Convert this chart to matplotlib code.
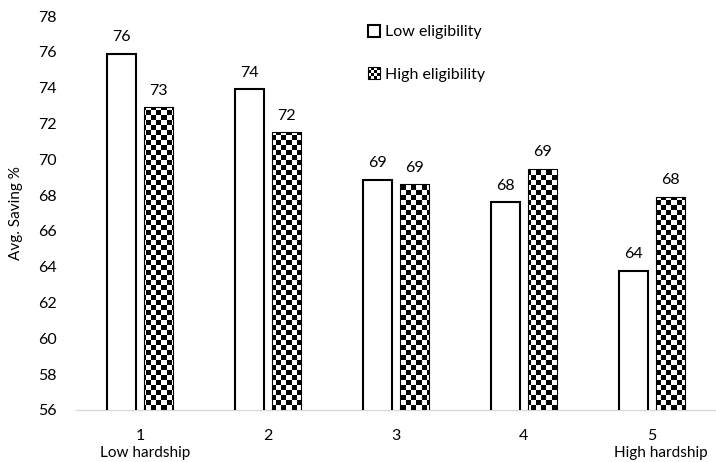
import numpy as np
import matplotlib
matplotlib.use("Agg")
import matplotlib.pyplot as plt
from matplotlib.colors import ListedColormap
from matplotlib.legend_handler import HandlerBase
from matplotlib.patches import Rectangle

categories = ["1", "2", "3", "4", "5"]
low_eligibility = [75.9, 73.9, 68.85, 67.6, 63.75]
high_eligibility = [72.9, 71.5, 68.6, 69.45, 67.9]
y_ticks = list(range(56, 80, 2))

plt.rcParams["font.family"] = ["Lato", "DejaVu Sans"]
plt.rcParams["font.size"] = 11.5

checker_cmap = ListedColormap(["white", "black"])


class CheckerHandler(HandlerBase):
    """Legend key drawn as a small checkerboard square."""

    def create_artists(self, legend, orig_handle, xdescent, ydescent,
                       width, height, fontsize, trans):
        n = 4
        size = min(width, height)
        x0 = -xdescent
        y0 = -ydescent
        step = size / n
        artists = [Rectangle((x0, y0), size, size, facecolor="white",
                             edgecolor="black", lw=0.8, transform=trans)]
        for i in range(n):
            for j in range(n):
                if (i + j) % 2 == 0:
                    artists.append(Rectangle((x0 + i * step, y0 + j * step), step, step,
                                             facecolor="black", lw=0, transform=trans))
        return artists


class BoxHandler(HandlerBase):
    def create_artists(self, legend, orig_handle, xdescent, ydescent,
                       width, height, fontsize, trans):
        size = min(width, height)
        return [Rectangle((-xdescent, -ydescent), size, size, facecolor="white",
                          edgecolor="black", lw=1.5, transform=trans)]


fig = plt.figure(figsize=(7.16, 4.62), dpi=100)
ax = fig.add_axes([0.106, 0.1126, 0.894, 0.8526])

x = np.arange(1, len(categories) + 1)
width = 0.23
offset = 0.145

bars_low = ax.bar(x - offset, low_eligibility, width, bottom=0,
                  facecolor="white", edgecolor="black", lw=1.5, zorder=3)
bars_high = ax.bar(x + offset, high_eligibility, width,
                   facecolor="none", edgecolor="black", lw=0.8, zorder=4)

ymin, ymax = 56, 78
xmin, xmax = 0.5, 5.5

# checkerboard fill for the high-eligibility bars
ncols, nrows = 128, 79
checker = np.indices((nrows, ncols)).sum(axis=0) % 2
for bar in bars_high:
    im = ax.imshow(checker, cmap=checker_cmap, extent=(xmin, xmax, ymin, ymax),
                   origin="lower", interpolation="nearest", aspect="auto", zorder=3)
    im.set_clip_path(bar)

ax.bar_label(bars_low, fmt="%.0f", padding=7, fontsize=11.5)
ax.bar_label(bars_high, fmt="%.0f", padding=7, fontsize=11.5)

ax.set_xlim(xmin, xmax)
ax.set_ylim(ymin, ymax)
ax.set_yticks(y_ticks)
ax.set_xticks(x)
ax.set_xticklabels(categories)
ax.tick_params(axis="both", length=0)
ax.tick_params(axis="y", pad=14)
ax.tick_params(axis="x", pad=14)

for side in ["left", "right", "top"]:
    ax.spines[side].set_visible(False)
ax.spines["bottom"].set_color("#d9d9d9")
ax.spines["bottom"].set_linewidth(1.0)

ax.set_ylabel("Avg. Saving %", fontsize=11)
ax.yaxis.set_label_coords(-0.083, 0.5)

ax.text(1.04, -0.108, "Low hardship", transform=ax.get_xaxis_transform(),
        ha="center", va="center", fontsize=11)
ax.text(5.07, -0.108, "High hardship", transform=ax.get_xaxis_transform(),
        ha="center", va="center", fontsize=11)

h_low = Rectangle((0, 0), 1, 1)
h_high = Rectangle((0, 0), 1, 1)
ax.legend([h_low, h_high], ["Low eligibility", "High eligibility"],
          handler_map={h_low: BoxHandler(), h_high: CheckerHandler()},
          loc="upper left", bbox_to_anchor=(0.505, 0.86, 0.1, 0.1),
          bbox_transform=fig.transFigure, frameon=False, fontsize=11.5,
          handlelength=0.75, handleheight=0.75, handletextpad=0.3,
          labelspacing=1.75, borderaxespad=0)

fig.savefig("out.png", dpi=100)
